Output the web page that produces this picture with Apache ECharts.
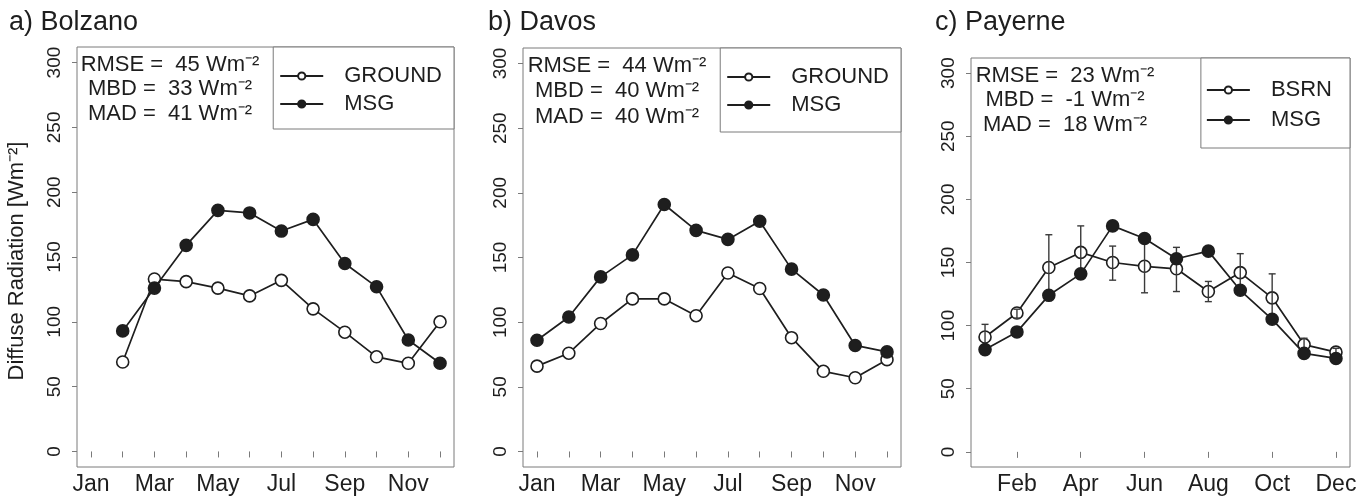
<!DOCTYPE html>
<html><head><meta charset="utf-8">
<script src="https://cdn.jsdelivr.net/npm/echarts@6/dist/echarts.min.js"></script>
<style>html,body{margin:0;padding:0;background:#fff}#c{width:1370px;height:503px}</style>
</head><body><div id="c"></div>
<script>
// ---- data ----
const monthNames = ['Jan','Feb','Mar','Apr','May','Jun','Jul','Aug','Sep','Oct','Nov','Dec'];
const months = [1,2,3,4,5,6,7,8,9,10,11,12];
const yTicks = [0,50,100,150,200,250,300];
const xLabelsAB = [1,3,5,7,9,11];
const xTicksAB = [1,2,3,4,5,6,7,8,9,10,11,12];
const xTicksC = [2,4,6,8,10,12];

const bolzanoGround = [null,69,133,131,126,120,132,110,92,73,68,100];
const bolzanoMSG    = [93,126,159,186,184,170,179,145,127,86,68];
const bolzanoMSGMonths = [2,3,4,5,6,7,8,9,10,11,12];

const davosGround = [66,76,99,118,118,105,138,126,88,62,57,71];
const davosMSG    = [86,104,135,152,191,171,164,178,141,121,82,77];

const payerneBSRN = [91,110,146,158,150,147,145,127,142,122,85,79];
const payerneMSG  = [81,95,124,141,179,169,153,159,128,105,78,74];
const payerneBSRNLow  = [81,106,121,137,136,126,127,119,127,104,80,77];
const payerneBSRNHigh = [101,113,172,179,163,168,162,135,157,141,90,82];

const statsA = ['RMSE =  45 Wm\u207B\u00B2','MBD =  33 Wm\u207B\u00B2','MAD =  41 Wm\u207B\u00B2'];
const statsB = ['RMSE =  44 Wm\u207B\u00B2','MBD =  40 Wm\u207B\u00B2','MAD =  40 Wm\u207B\u00B2'];
const statsC = ['RMSE =  23 Wm\u207B\u00B2','MBD =  -1 Wm\u207B\u00B2','MAD =  18 Wm\u207B\u00B2'];
const titles = ['a) Bolzano','b) Davos','c) Payerne'];
const yTitle = 'Diffuse Radiation [Wm\u207B\u00B2]';

// ---- styling ----
const FONT = '"Liberation Sans", Arial, sans-serif';
const INK = '#1e1e1e';
const BOX = '#7a7a7a';
const grids = [
  {left:77, top:47, width:377, height:420},
  {left:523, top:48, width:378, height:419},
  {left:971, top:58, width:379, height:409}
];

function pairs(xs, ys){ return xs.map((x,i)=>[x, ys[i]]); }

function xAxisFor(i, ticks, labels){
  return {gridIndex:i, type:'value', min:0.56, max:12.44,
    axisLine:{show:false}, splitLine:{show:false},
    axisTick:{show:true, customValues:ticks, length:6, lineStyle:{color:BOX, width:1}},
    axisLabel:{customValues:labels, formatter:v=>monthNames[Math.round(v)-1], fontSize:23, margin:6, color:INK, fontFamily:FONT}
  };
}
function yAxisFor(i){
  return {gridIndex:i, type:'value', min:-12, max:312,
    axisLine:{show:false}, splitLine:{show:false},
    axisTick:{show:true, customValues:yTicks, length:5, lineStyle:{color:BOX, width:1}},
    axisLabel:{customValues:yTicks, rotate:90, fontSize:19, margin:13, color:INK, fontFamily:FONT}
  };
}
function lineSeries(name, idx, data, filled, z){
  return {name, type:'line', xAxisIndex:idx, yAxisIndex:idx, data, z,
    symbol:'circle', symbolSize:12, showSymbol:true,
    lineStyle:{color:INK, width:1.7},
    itemStyle:{color: filled ? INK : '#fff', borderColor:INK, borderWidth:1.6},
    emphasis:{disabled:true}, animation:false};
}
function legendFor(names, right, top, padding, gap){
  return {data:names, orient:'vertical', right, top, padding, itemGap:gap,
    itemWidth:43, itemHeight:9, borderColor:BOX, borderWidth:1, backgroundColor:'#fff', borderRadius:0,
    selectedMode:false,
    textStyle:{fontSize:22, color:INK, fontFamily:FONT, padding:[0,0,0,16]}};
}
function statText(lines, cx, ys){
  return lines.map((t,i)=>({type:'text', x:cx, y:ys[i], style:{text:t, textAlign:'center', textVerticalAlign:'middle', font:'22px '+FONT, fill:INK}}));
}

const errSeries = {type:'custom', xAxisIndex:2, yAxisIndex:2, z:3,
  data: months.map((m,i)=>[m, payerneBSRNLow[i], payerneBSRNHigh[i]]),
  encode:{x:0, y:[1,2]},
  renderItem:function(params, api){
    const x=api.value(0), lo=api.value(1), hi=api.value(2);
    const p1=api.coord([x,lo]), p2=api.coord([x,hi]);
    const w=3.5, st={stroke:'#3a3a3a', lineWidth:1.4};
    return {type:'group', children:[
      {type:'line', shape:{x1:p1[0],y1:p1[1],x2:p2[0],y2:p2[1]}, style:st},
      {type:'line', shape:{x1:p1[0]-w,y1:p1[1],x2:p1[0]+w,y2:p1[1]}, style:st},
      {type:'line', shape:{x1:p2[0]-w,y1:p2[1],x2:p2[0]+w,y2:p2[1]}, style:st}
    ]};
  }, animation:false};

const option = {
  backgroundColor:'#fff',
  animation:false,
  grid: grids.map(g=>Object.assign({show:true, borderColor:BOX, borderWidth:1, backgroundColor:'transparent'}, g)),
  xAxis:[xAxisFor(0,xTicksAB,xLabelsAB), xAxisFor(1,xTicksAB,xLabelsAB), xAxisFor(2,xTicksC,xTicksC)],
  yAxis:[yAxisFor(0), yAxisFor(1), yAxisFor(2)],
  legend:[
    legendFor(['GROUND','MSG'], 1370-454, 47, [18,12,14,6], 6),
    legendFor(['GROUND','MSG'], 1370-901, 48, [18,12,16,6], 6),
    legendFor(['BSRN','MSG'], 1370-1350, 58, [21,18,17,5], 8)
  ],
  series:[
    lineSeries('GROUND',0,pairs(months,bolzanoGround),false,2),
    lineSeries('MSG',0,pairs(bolzanoMSGMonths,bolzanoMSG),true,4),
    lineSeries('GROUND',1,pairs(months,davosGround),false,2),
    lineSeries('MSG',1,pairs(months,davosMSG),true,4),
    lineSeries('BSRN',2,pairs(months,payerneBSRN),false,2),
    errSeries,
    lineSeries('MSG',2,pairs(months,payerneMSG),true,4)
  ],
  graphic:[].concat(
    [{type:'text', x:9, y:23, style:{text:titles[0], textVerticalAlign:'middle', font:'27px '+FONT, fill:INK}},
     {type:'text', x:488, y:23, style:{text:titles[1], textVerticalAlign:'middle', font:'27px '+FONT, fill:INK}},
     {type:'text', x:935, y:23, style:{text:titles[2], textVerticalAlign:'middle', font:'27px '+FONT, fill:INK}},
     {type:'text', x:17, y:261, rotation:Math.PI/2, style:{text:yTitle, textAlign:'center', textVerticalAlign:'middle', font:'22px '+FONT, fill:INK}}],
    statText(statsA, 170, [65,89,114]),
    statText(statsB, 617, [66,91,117]),
    statText(statsC, 1065, [76,100,125])
  )
};
const chart = echarts.init(document.getElementById('c'), null, {renderer:'canvas'});
chart.setOption(option);
</script></body></html>
